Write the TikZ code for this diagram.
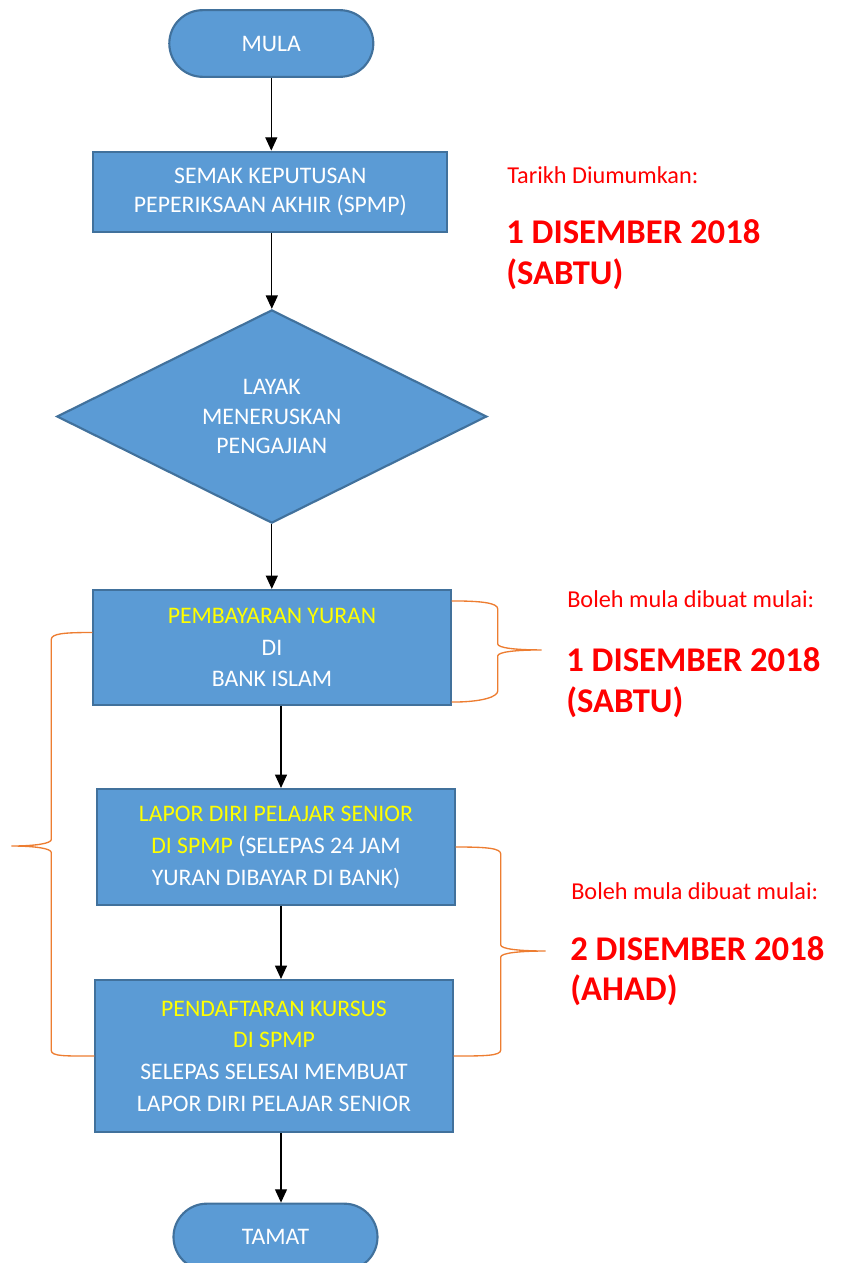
\documentclass[tikz,border=0pt]{standalone}
\usepackage{fontspec}
\setmainfont{Carlito}
\usetikzlibrary{shapes.geometric,arrows.meta,calc}

\definecolor{boxblue}{HTML}{5B9BD5}
\definecolor{boxline}{HTML}{41719C}
\definecolor{braceorange}{HTML}{ED7D31}
\definecolor{kuning}{HTML}{FFFF00}
\definecolor{merah}{HTML}{FF0000}

\tikzset{
  flow/.style={draw=boxline, fill=boxblue, line width=1.6pt, text=white,
    align=center, inner sep=0pt, font=\fontsize{17.8}{22}\selectfont},
  terminal/.style={flow, rectangle, rounded corners=25pt,
    minimum width=153pt, minimum height=50pt},
  process/.style={flow, rectangle, minimum width=268pt},
  decision/.style={flow, diamond, minimum width=322.5pt, minimum height=159.75pt},
  arr/.style={-{Triangle[length=10pt,width=9pt]}, line width=0.9pt},
  brace/.style={draw=braceorange, line width=1pt},
  note/.style={text=merah, anchor=base west, inner sep=0pt,
    font=\fontsize{18.2}{22}\selectfont},
  date/.style={note, font=\fontsize{26}{30}\selectfont\bfseries},
}

\begin{document}
\begin{tikzpicture}[x=0.75pt, y=-0.75pt]
  \clip (0,0) rectangle (840,1263);

  % flow
  \node[terminal] (mula) at (271.3,43.5) {MULA};
  \node[process, minimum width=265.5pt, minimum height=60pt] (semak) at (270.3,191.7)
    {SEMAK KEPUTUSAN\\PEPERIKSAAN AKHIR (SPMP)};
  \node[decision] (layak) at (271.8,416.5) {LAYAK\\MENERUSKAN\\PENGAJIAN};
  \node[process, minimum height=86.25pt, font=\fontsize{17.8}{23.6}\selectfont] (yuran) at (272,647.5)
    {\textcolor{kuning}{PEMBAYARAN YURAN}\\DI\\BANK ISLAM};
  \node[process, minimum height=87pt, font=\fontsize{17.8}{24}\selectfont] (lapor) at (276,847)
    {\textcolor{kuning}{LAPOR DIRI PELAJAR SENIOR}\\
     \textcolor{kuning}{DI SPMP} (SELEPAS 24 JAM\\YURAN DIBAYAR DI BANK)};
  \node[process, minimum height=114pt, font=\fontsize{17.8}{23.8}\selectfont] (kursus) at (274,1056)
    {\textcolor{kuning}{PENDAFTARAN KURSUS}\\\textcolor{kuning}{DI SPMP}\\
     SELEPAS SELESAI MEMBUAT\\LAPOR DIRI PELAJAR SENIOR};
  \node[terminal] (tamat) at (275.5,1237) {TAMAT};

  \draw[arr] (mula) -- (mula |- semak.north);
  \draw[arr] (layak.north |- semak.south) -- (layak);
  \draw[arr] (layak) -- (layak.south |- yuran.north);
  \draw[arr] ($(yuran.south)+(9,0)$) -- ($(lapor.north)+(5,0)$);
  \draw[arr] ($(lapor.south)+(5,0)$) -- ($(kursus.north)+(7,0)$);
  \draw[arr] ($(kursus.south)+(7,0)$) -- ($(tamat.north)+(5.5,0)$);

  % braces
  \draw[brace] ($(yuran.north east)+(0,12)$)
    .. controls +(30,0) and +(0,-6) .. ++(46,8)
    -- ++(0,35)
    .. controls +(0,4) and +(-26,0) .. ++(44,6)
    .. controls +(-26,0) and +(0,-4) .. ++(-44,6)
    -- ++(0,35)
    .. controls +(0,6) and +(30,0) .. ($(yuran.south east)+(0,-4)$);
  \draw[brace] (lapor.east)
    .. controls +(30,0) and +(0,-6) .. ++(45,7)
    -- ++(0,91)
    .. controls +(0,4) and +(-26,0) .. ++(45,6)
    .. controls +(-26,0) and +(0,-4) .. ++(-45,6)
    -- ++(0,93)
    .. controls +(0,6) and +(30,0) .. (kursus.east);
  \draw[brace] ($(yuran.west)+(0,-15)$)
    .. controls +(-28,0) and +(0,-6) .. ++(-41,7)
    -- ++(0,200)
    .. controls +(0,4) and +(24,0) .. ++(-40,6.5)
    .. controls +(24,0) and +(0,-4) .. ++(40,6.5)
    -- ++(0,198)
    .. controls +(0,6) and +(-28,0) .. (kursus.west);

  % dates
  \node[note] (tarikh) at (507,183) {Tarikh Diumumkan:};
  \node[date] (tgl1) at (506,243) {1 DISEMBER 2018};
  \node[date] (hari1) at (506,284) {(SABTU)};
  \node[note] (boleh1) at (567,607) {Boleh mula dibuat mulai:};
  \node[date] (tgl2) at (566,671) {1 DISEMBER 2018};
  \node[date] (hari2) at (566,712) {(SABTU)};
  \node[note] (boleh2) at (571,899) {Boleh mula dibuat mulai:};
  \node[date] (tgl3) at (570,960) {2 DISEMBER 2018};
  \node[date] (hari3) at (570,1000) {(AHAD)};
\end{tikzpicture}
\end{document}
